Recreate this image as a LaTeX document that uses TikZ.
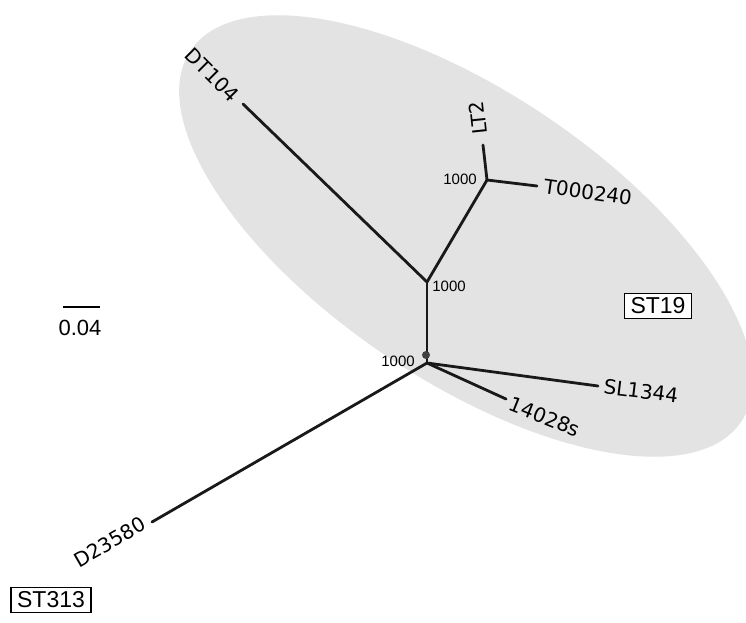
\documentclass[tikz,border=0pt]{standalone}
\usepackage{fontspec}
\setmainfont{Liberation Sans}
\newfontfamily\labfont{DejaVu Sans}
\begin{document}
\begin{tikzpicture}[x=1pt,y=-1pt,
  branch/.style={line width=2.8pt, black!90, line cap=round},
  leaf/.style={font=\labfont\fontsize{20}{24}\selectfont, inner sep=0pt},
  boot/.style={font=\fontsize{15}{18}\selectfont, inner sep=0pt},
  stbox/.style={draw, line width=1.3pt, font=\fontsize{23}{27}\selectfont, inner xsep=6pt, inner ysep=4.5pt, fill=white},
]
\clip (0,0) rectangle (746,623);
\fill[black!11, rotate around={-34:(466,236)}] (466,236) ellipse [x radius=332pt, y radius=144pt];

% internal nodes and branch ends
\coordinate (R) at (427,363);
\coordinate (U) at (427,282);
\coordinate (N2) at (487,180);
\coordinate (eDT) at (243,104);
\coordinate (eLT) at (483,145);
\coordinate (eT) at (537,186);
\coordinate (eSL) at (598,386);
\coordinate (e14) at (506,399);
\coordinate (eD) at (152,522);

\draw[branch] (R) -- (U);
\draw[branch] (U) -- (eDT);
\draw[branch] (U) -- (N2);
\draw[branch] (N2) -- (eLT);
\draw[branch] (N2) -- (eT);
\draw[branch] (R) -- (eSL);
\draw[branch] (R) -- (e14);
\draw[branch] (R) -- (eD);
\fill[black!75] (426,355) circle (4pt);

% leaf labels
\node[leaf, rotate=-45] (lDT) at (212,75) {DT104};
\node[leaf, rotate=96] (lLT) at (478,118) {LT2};
\node[leaf, rotate=-8] (lT) at (588,192) {T000240};
\node[leaf, rotate=-7] (lSL) at (641,391) {SL1344};
\node[leaf, rotate=-22] (l14) at (545,417) {14028s};
\node[leaf, rotate=30] (lD) at (110,542) {D23580};

% bootstrap values
\node[boot] (bU) at (449,286) {1000};
\node[boot] (bR) at (398,361) {1000};
\node[boot] (bN) at (460,179) {1000};

% clade boxes
\node[stbox] (st19) at (658,306) {ST19};
\node[stbox] (st313) at (51,600) {ST313};

% scale bar
\coordinate (sb1) at (63,307);
\coordinate (sb2) at (100,307);
\draw[line width=2.5pt] (sb1) -- (sb2);
\node[font=\fontsize{22}{26}\selectfont, inner sep=0pt] (sbl) at (80,328) {0.04};
\end{tikzpicture}
\end{document}
